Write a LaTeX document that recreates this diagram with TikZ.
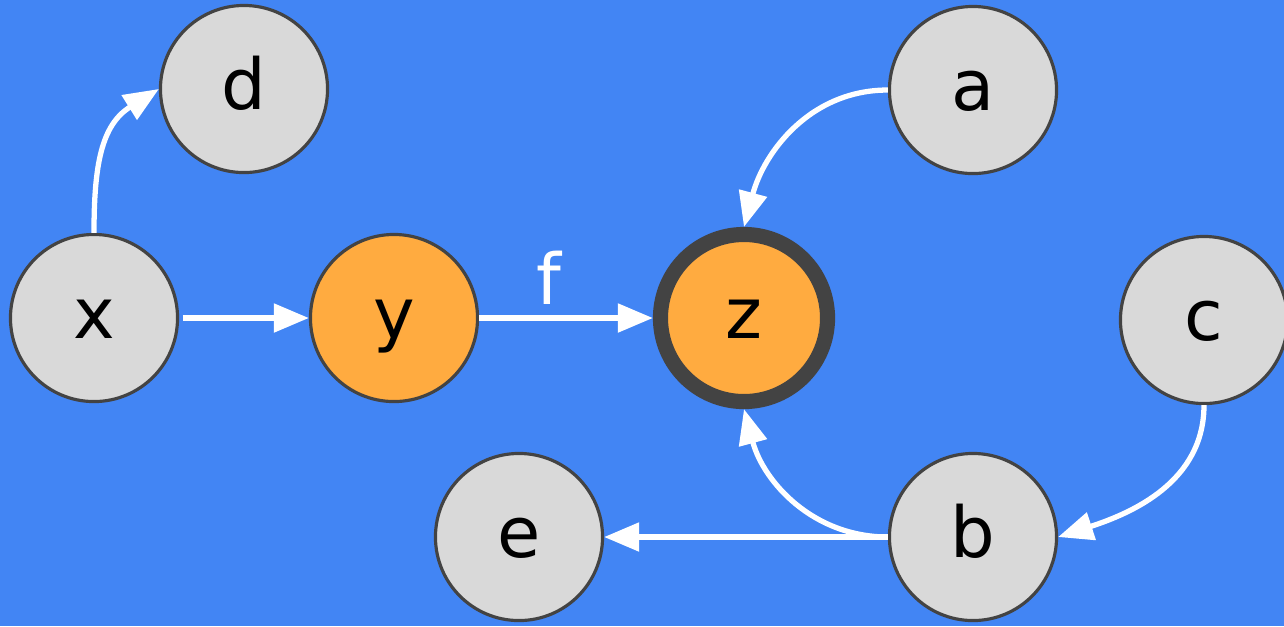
\documentclass[tikz,border=0pt]{standalone}
\usepackage{fontspec}
\setmainfont{DejaVu Sans}
\usepackage{tikz}
\usetikzlibrary{arrows.meta}
\definecolor{bgblue}{HTML}{4285F4}
\definecolor{nodegray}{HTML}{D9D9D9}
\definecolor{rimgray}{HTML}{434343}
\definecolor{hotorange}{HTML}{FFAB40}
\tikzset{
  varnode/.style={circle, draw=rimgray, line width=0.9pt, fill=nodegray, minimum size=1.67cm,
    inner sep=0pt, text height=0.4cm, text depth=0pt, font=\fontsize{20}{24}\selectfont},
  varhot/.style={varnode, fill=hotorange},
  vargoal/.style={varhot, line width=4.3pt},
  vararrow/.style={-{Triangle[length=3.5mm, width=2.8mm]}, white, line width=1.5pt},
  varlabel/.style={font=\fontsize{20}{24}\selectfont, text=white, inner sep=0pt},
}

\begin{document}
\begin{tikzpicture}[x=0.01cm, y=-0.01cm]
  \useasboundingbox (0,0) rectangle (1284,626);
  \clip (0,0) rectangle (1284,626);
  \fill[bgblue] (0,0) rectangle (1284,626);
  \node[varnode] (d) at (244,89) {d};
  \node[varnode] (a) at (973,90) {a};
  \node[varnode] (x) at (94,318) {x};
  \node[varhot] (y) at (394,318) {y};
  \node[vargoal] (z) at (744,318) {z};
  \node[varnode] (c) at (1204,320) {c};
  \node[varnode] (e) at (519,537) {e};
  \node[varnode] (b) at (973,537) {b};
  \draw[vararrow, shorten <=1pt] (x) -- (y);
  \draw[vararrow] (y) -- node[varlabel, pos=0.4, above=3pt] {f} (z);
  \draw[vararrow] (x.north) to[out=90, in=212, looseness=1.1] (d.west);
  \draw[vararrow] (a.west) to[out=180, in=75] (z.north);
  \draw[vararrow] (b.west) to[out=180, in=-75] (z.south);
  \draw[vararrow] (c.south) to[out=-90, in=18] (b.east);
  \draw[vararrow] (b.west) -- (e);
\end{tikzpicture}
\end{document}
